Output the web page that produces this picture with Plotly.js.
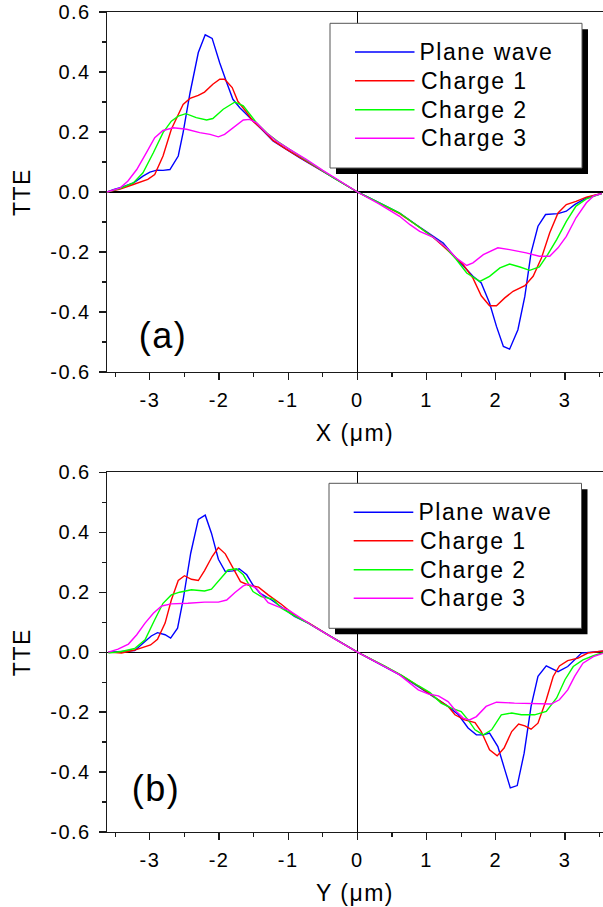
<!DOCTYPE html>
<html>
<head>
<meta charset="utf-8">
<script src="https://cdn.plot.ly/plotly-3.0.1.min.js"></script>
<style>
html,body{margin:0;padding:0;background:#fff;}
#chart{width:603px;height:907px;}
.main-svg text{letter-spacing:1.5px;}
</style>
</head>
<body>
<div id="chart"></div>
<script>
// ---------- data ----------
const seriesNames = ["Plane wave", "Charge 1", "Charge 2", "Charge 3"];
const seriesColors = ["#0000ff", "#ff0000", "#00ff00", "#ff00ff"];

// panel (a): TTE vs X
const xA_plane = [-3.62,-3.53,-3.43,-3.24,-3.10,-3.00,-2.90,-2.81,-2.71,-2.59,-2.52,-2.42,-2.30,-2.20,-2.10,-1.99,-1.89,-1.80,-1.70,-1.60,-1.51,-1.36,-1.22,-1.03,-0.83,-0.59,-0.35,0,0.37,0.61,0.85,1.09,1.24,1.38,1.53,1.67,1.79,1.91,2.01,2.11,2.20,2.32,2.42,2.51,2.61,2.72,2.90,3.02,3.14,3.31,3.53];
const yA_plane = [0,0.008,0.014,0.03,0.053,0.066,0.073,0.072,0.075,0.12,0.198,0.33,0.465,0.524,0.512,0.43,0.365,0.309,0.281,0.259,0.236,0.203,0.17,0.142,0.114,0.081,0.047,0,-0.042,-0.07,-0.109,-0.148,-0.17,-0.209,-0.248,-0.281,-0.303,-0.37,-0.448,-0.515,-0.524,-0.459,-0.348,-0.203,-0.114,-0.075,-0.072,-0.064,-0.042,-0.02,-0.005];
const xA_c1 = [-3.62,-3.43,-3.24,-3.03,-2.93,-2.81,-2.69,-2.52,-2.42,-2.30,-2.21,-2.09,-1.99,-1.92,-1.81,-1.73,-1.60,-1.51,-1.36,-1.22,-1.03,-0.83,-0.59,-0.35,0,0.37,0.61,0.85,1.09,1.24,1.38,1.53,1.67,1.79,1.91,2.01,2.13,2.25,2.42,2.54,2.66,2.78,2.90,3.02,3.16,3.31,3.53];
const yA_c1 = [0,0.01,0.025,0.042,0.058,0.12,0.209,0.292,0.312,0.322,0.333,0.359,0.376,0.376,0.348,0.303,0.265,0.236,0.205,0.172,0.143,0.115,0.082,0.047,0,-0.044,-0.072,-0.11,-0.15,-0.181,-0.212,-0.242,-0.287,-0.346,-0.379,-0.379,-0.353,-0.331,-0.312,-0.281,-0.22,-0.136,-0.07,-0.042,-0.031,-0.017,-0.005];
const xA_c2 = [-3.62,-3.43,-3.24,-3.10,-2.95,-2.81,-2.69,-2.59,-2.48,-2.33,-2.18,-2.09,-1.94,-1.77,-1.65,-1.56,-1.46,-1.30,-1.15,-1.0,-0.8,-0.59,-0.35,0,0.37,0.61,0.85,1.0,1.24,1.43,1.58,1.77,1.91,2.06,2.20,2.35,2.49,2.63,2.75,2.88,3.02,3.16,3.31,3.53];
const yA_c2 = [0,0.012,0.03,0.064,0.131,0.198,0.236,0.253,0.261,0.248,0.24,0.245,0.276,0.30,0.287,0.259,0.231,0.195,0.168,0.145,0.115,0.083,0.048,0,-0.043,-0.07,-0.11,-0.136,-0.176,-0.225,-0.27,-0.298,-0.281,-0.253,-0.24,-0.25,-0.261,-0.25,-0.209,-0.159,-0.098,-0.047,-0.023,-0.005];
const xA_c3 = [-3.62,-3.43,-3.32,-3.19,-3.05,-2.93,-2.81,-2.66,-2.47,-2.28,-2.13,-2.01,-1.92,-1.80,-1.65,-1.56,-1.46,-1.32,-1.17,-0.98,-0.74,-0.5,-0.25,0,0.3,0.61,0.76,0.90,1.09,1.29,1.43,1.58,1.67,1.82,2.03,2.20,2.44,2.63,2.78,2.90,3.02,3.16,3.31,3.41,3.53];
const yA_c3 = [0,0.014,0.036,0.075,0.131,0.181,0.205,0.214,0.209,0.198,0.192,0.184,0.192,0.214,0.240,0.242,0.231,0.198,0.17,0.142,0.109,0.072,0.036,0,-0.038,-0.081,-0.109,-0.131,-0.15,-0.186,-0.22,-0.245,-0.236,-0.209,-0.186,-0.192,-0.203,-0.214,-0.214,-0.186,-0.148,-0.086,-0.036,-0.014,-0.005];

// panel (b): TTE vs Y
const xB_plane = [-3.60,-3.41,-3.22,-3.10,-2.98,-2.89,-2.78,-2.70,-2.60,-2.52,-2.41,-2.30,-2.20,-2.11,-2.01,-1.91,-1.80,-1.71,-1.60,-1.51,-1.41,-1.24,-1.07,-0.91,-0.71,-0.42,0,0.39,0.64,0.88,1.12,1.31,1.46,1.60,1.72,1.82,1.91,2.03,2.13,2.21,2.31,2.41,2.51,2.61,2.73,2.90,3.04,3.24,3.38,3.55];
const yB_plane = [0,0.002,0.005,0.03,0.054,0.065,0.058,0.047,0.08,0.174,0.33,0.443,0.457,0.397,0.31,0.269,0.271,0.278,0.258,0.224,0.197,0.174,0.147,0.119,0.097,0.058,0,-0.048,-0.079,-0.115,-0.153,-0.181,-0.209,-0.253,-0.276,-0.276,-0.27,-0.315,-0.392,-0.453,-0.445,-0.337,-0.181,-0.081,-0.046,-0.065,-0.048,-0.003,0,0.003];
const xB_c1 = [-3.60,-3.41,-3.22,-3.07,-2.99,-2.89,-2.78,-2.69,-2.59,-2.50,-2.40,-2.30,-2.21,-2.10,-2.01,-1.91,-1.80,-1.69,-1.58,-1.43,-1.29,-1.1,-0.9,-0.7,-0.42,0,0.39,0.64,0.88,1.12,1.31,1.41,1.55,1.70,1.79,1.91,2.02,2.12,2.23,2.33,2.42,2.51,2.61,2.73,2.83,2.92,3.04,3.19,3.33,3.55];
const yB_c1 = [0,-0.003,0.007,0.019,0.024,0.043,0.097,0.174,0.239,0.255,0.243,0.239,0.272,0.319,0.349,0.328,0.28,0.235,0.224,0.217,0.191,0.16,0.122,0.097,0.057,0,-0.047,-0.078,-0.113,-0.150,-0.181,-0.209,-0.226,-0.235,-0.265,-0.326,-0.346,-0.32,-0.265,-0.24,-0.246,-0.257,-0.237,-0.159,-0.081,-0.046,-0.028,-0.02,-0.003,0.004];
const xB_c2 = [-3.60,-3.41,-3.22,-3.07,-2.93,-2.81,-2.69,-2.57,-2.40,-2.21,-2.11,-1.99,-1.87,-1.75,-1.65,-1.51,-1.39,-1.22,-1.10,-0.9,-0.7,-0.42,0,0.39,0.64,0.88,1.05,1.21,1.36,1.50,1.60,1.70,1.82,1.94,2.08,2.23,2.37,2.56,2.73,2.88,3.0,3.12,3.26,3.41,3.55];
const yB_c2 = [-0.003,0.002,0.012,0.041,0.108,0.163,0.191,0.2,0.208,0.204,0.21,0.241,0.274,0.278,0.258,0.202,0.185,0.177,0.147,0.12,0.095,0.057,0,-0.046,-0.077,-0.112,-0.135,-0.17,-0.187,-0.198,-0.226,-0.259,-0.276,-0.259,-0.209,-0.203,-0.209,-0.209,-0.198,-0.153,-0.092,-0.048,-0.026,-0.012,-0.002];
const xB_c3 = [-3.60,-3.46,-3.31,-3.19,-3.07,-2.95,-2.83,-2.69,-2.45,-2.21,-2.01,-1.89,-1.77,-1.65,-1.58,-1.46,-1.29,-1.15,-1.0,-0.86,-0.62,-0.3,0,0.3,0.6,0.88,1.02,1.17,1.31,1.43,1.53,1.62,1.72,1.86,2.01,2.27,2.56,2.80,2.92,3.04,3.14,3.26,3.41,3.55];
const yB_c3 = [0,0.01,0.027,0.058,0.097,0.13,0.154,0.161,0.163,0.167,0.167,0.174,0.199,0.221,0.227,0.213,0.165,0.152,0.141,0.119,0.084,0.04,0,-0.037,-0.074,-0.126,-0.139,-0.146,-0.165,-0.198,-0.22,-0.226,-0.215,-0.181,-0.167,-0.17,-0.173,-0.173,-0.159,-0.126,-0.081,-0.037,-0.015,-0.004];

// tick labels
const xTickVals = [-3,-2,-1,0,1,2,3];
const xTickText = ["-3","-2","-1","0","1","2","3"];
const xMinorVals = [-3.5,-2.5,-1.5,-0.5,0.5,1.5,2.5,3.5];
const yTickVals = [-0.6,-0.4,-0.2,0,0.2,0.4,0.6];
const yTickText = ["-0.6","-0.4","-0.2","0.0","0.2","0.4","0.6"];
const yMinorVals = [-0.5,-0.3,-0.1,0.1,0.3,0.5];
const panelLabels = ["(a)", "(b)"];
const xTitles = ["X (\u03bcm)", "Y (\u03bcm)"];
const yTitle = "TTE";

// ---------- layout helpers ----------
const W = 603, H = 907, ML = 107, MR = 0, MT = 12, MB = 75;
const PW = W - ML - MR, PH = H - MT - MB;
const fx = p => (p - ML) / PW;
const fy = p => (MT + PH - p) / PH;
const FONT = "Liberation Sans, Arial, Helvetica, sans-serif";
const AX = "#1a1a1a";

const panelA = [[xA_plane,yA_plane],[xA_c1,yA_c1],[xA_c2,yA_c2],[xA_c3,yA_c3]];
const panelB = [[xB_plane,yB_plane],[xB_c1,yB_c1],[xB_c2,yB_c2],[xB_c3,yB_c3]];

const traces = [];
panelA.forEach((s,i) => traces.push({x:s[0], y:s[1], type:"scatter", mode:"lines", name:seriesNames[i],
  line:{color:seriesColors[i], width:1.4}, xaxis:"x", yaxis:"y", showlegend:false}));
panelB.forEach((s,i) => traces.push({x:s[0], y:s[1], type:"scatter", mode:"lines", name:seriesNames[i],
  line:{color:seriesColors[i], width:1.4}, xaxis:"x2", yaxis:"y2", showlegend:false}));

function xaxisDef(anchor, title){
  return {anchor:anchor, range:[-3.62,3.55], tickmode:"array", tickvals:xTickVals, ticktext:xTickText,
    ticks:"outside", ticklen:7, tickwidth:1.2, tickcolor:AX, ticklabelstandoff:3,
    minor:{tickmode:"array", tickvals:xMinorVals, ticks:"outside", ticklen:4, tickwidth:1.2, tickcolor:AX},
    showline:true, linecolor:AX, linewidth:1.3, mirror:true, showgrid:false,
    zeroline:true, zerolinecolor:"#000", zerolinewidth:1.2,
    tickfont:{family:FONT, size:20, color:"#000"},
    title:{text:title, font:{family:FONT, size:23, color:"#000"}, standoff:14},
    automargin:false, fixedrange:true};
}
function yaxisDef(anchor, domain){
  return {anchor:anchor, domain:domain, range:[-0.6,0.6], tickmode:"array", tickvals:yTickVals, ticktext:yTickText,
    ticks:"outside", ticklen:7, tickwidth:1.2, tickcolor:AX, ticklabelstandoff:4,
    minor:{tickmode:"array", tickvals:yMinorVals, ticks:"outside", ticklen:4, tickwidth:1.2, tickcolor:AX},
    showline:true, linecolor:AX, linewidth:1.3, mirror:true, showgrid:false,
    zeroline:true, zerolinecolor:"#000", zerolinewidth:1.2,
    tickfont:{family:FONT, size:20, color:"#000"},
    title:{text:yTitle, font:{family:FONT, size:23, color:"#000"}, standoff:19},
    automargin:false, fixedrange:true};
}

// ---------- custom legend boxes (pixel geometry) ----------
const legendGeom = [
  {x0:330, x1:582, y0:23.3, y1:168, lineX0:355, lineX1:414.5, textX:425, rows:[52,80.7,109.7,138.3]},
  {x0:329, x1:581.5, y0:483.3, y1:628.3, lineX0:353.7, lineX1:413.3, textX:424, rows:[512.3,540.7,569.7,598.3]}
];
const shapes = [], annotations = [];
legendGeom.forEach(g => {
  shapes.push({type:"rect", xref:"paper", yref:"paper", x0:fx(g.x0+6), x1:fx(g.x1+6), y0:fy(g.y0+6), y1:fy(g.y1+6),
    fillcolor:"#000", line:{width:0}, layer:"above"});
  shapes.push({type:"rect", xref:"paper", yref:"paper", x0:fx(g.x0), x1:fx(g.x1), y0:fy(g.y0), y1:fy(g.y1),
    fillcolor:"#fff", line:{color:"#555", width:1}, layer:"above"});
  seriesNames.forEach((n,i) => {
    shapes.push({type:"line", xref:"paper", yref:"paper", x0:fx(g.lineX0), x1:fx(g.lineX1), y0:fy(g.rows[i]), y1:fy(g.rows[i]),
      line:{color:seriesColors[i], width:1.4}, layer:"above"});
    annotations.push({xref:"paper", yref:"paper", x:fx(g.textX), y:fy(g.rows[i]), xanchor:"left", yanchor:"middle",
      text:n, showarrow:false, font:{family:FONT, size:23, color:"#000"}});
  });
});
annotations.push({xref:"paper", yref:"paper", x:fx(163), y:fy(335), xanchor:"center", yanchor:"middle",
  text:panelLabels[0], showarrow:false, font:{family:FONT, size:36, color:"#000"}});
annotations.push({xref:"paper", yref:"paper", x:fx(156), y:fy(788), xanchor:"center", yanchor:"middle",
  text:panelLabels[1], showarrow:false, font:{family:FONT, size:36, color:"#000"}});

const layout = {
  width:W, height:H, margin:{l:ML, r:MR, t:MT, b:MB, pad:0},
  paper_bgcolor:"#fff", plot_bgcolor:"#fff", showlegend:false,
  xaxis: xaxisDef("y", xTitles[0]),
  yaxis: yaxisDef("x", [(MT+PH-372)/PH, 1]),
  xaxis2: xaxisDef("y2", xTitles[1]),
  yaxis2: yaxisDef("x2", [0, (MT+PH-472.3)/PH]),
  shapes:shapes, annotations:annotations
};

Plotly.newPlot("chart", traces, layout, {displayModeBar:false, staticPlot:true});
</script>
</body>
</html>
